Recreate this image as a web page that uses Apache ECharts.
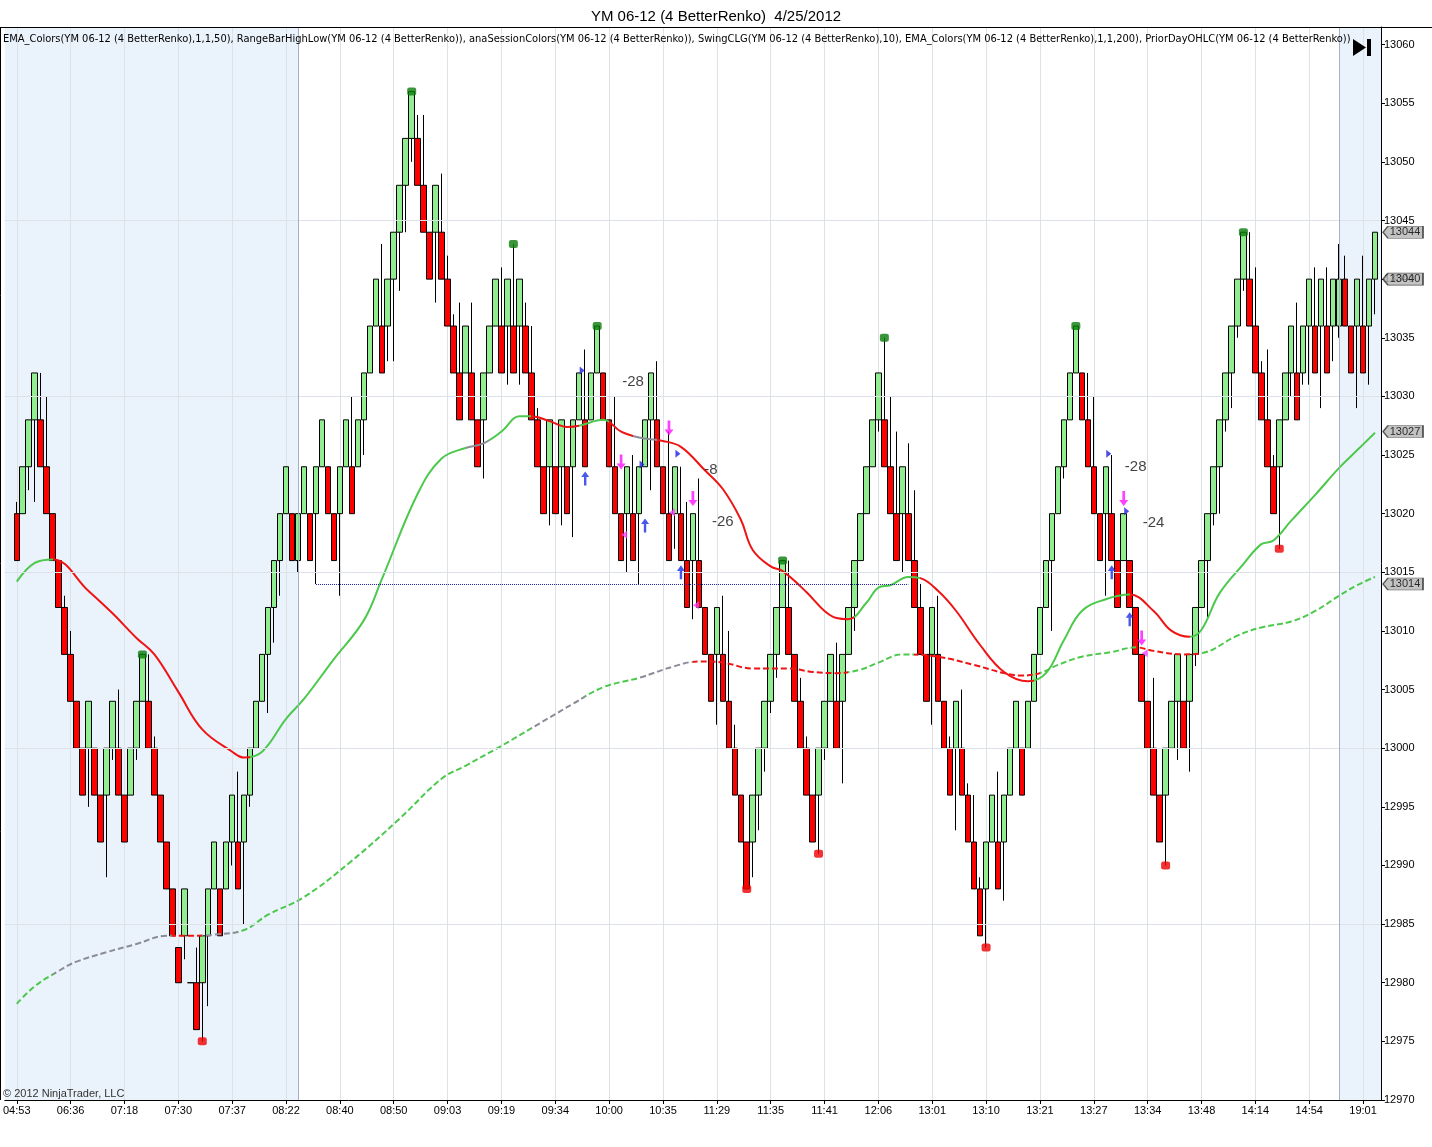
<!DOCTYPE html>
<html>
<head>
<meta charset="utf-8">
<title>YM 06-12 (4 BetterRenko) 4/25/2012</title>
<script src="https://cdn.jsdelivr.net/npm/echarts@6.0.0/dist/echarts.min.js"></script>
<style>
html, body { margin: 0; padding: 0; background: #fff; }
#main { width: 1432px; height: 1147px; }
</style>
</head>
<body>
<div id="main"></div>
<script>
// 4 point renko bars, one category per bar
var PAD = 2; // empty slots before the first bar

var timeLabels = ['04:53','06:36','07:18','07:30','07:37','08:22','08:40','08:50','09:03','09:19','09:34','10:00','10:35',
    '11:29','11:35','11:41','12:06','13:01','13:10','13:21','13:27','13:34','13:48','14:14','14:54','19:01'];
var labelEvery = 9;

var opens = [
    13020,13020,13024,13028,13028,13024,13020,13016,13012,13008,
    13004,13000,13000,13000,12996,12996,13000,13000,12996,12996,
    13000,13004,13004,13000,12996,12992,12988,12983,12984,12980,
    12980,12980,12984,12988,12988,12988,12992,12992,12992,12996,
    13000,13004,13008,13012,13016,13020,13020,13016,13020,13020,
    13020,13024,13024,13020,13020,13024,13024,13024,13028,13032,
    13036,13036,13036,13040,13044,13048,13052,13052,13048,13044,
    13044,13044,13040,13036,13032,13032,13032,13028,13028,13032,
    13036,13036,13036,13036,13036,13036,13032,13028,13024,13024,
    13024,13024,13024,13024,13028,13028,13028,13032,13032,13028,
    13024,13020,13020,13020,13020,13024,13028,13028,13024,13020,
    13020,13020,13016,13016,13016,13012,13008,13008,13008,13004,
    13000,12996,12992,12992,12996,13000,13004,13008,13012,13012,
    13008,13004,13000,12996,12996,13000,13004,13004,13004,13008,
    13012,13016,13020,13024,13028,13028,13024,13020,13020,13020,
    13016,13012,13008,13008,13008,13004,13000,13000,13000,12996,
    12992,12988,12988,12992,12992,12992,12996,13000,13000,13000,
    13004,13008,13012,13016,13020,13024,13028,13032,13032,13028,
    13024,13020,13020,13020,13016,13016,13016,13012,13008,13004,
    13000,12996,12996,13000,13004,13004,13004,13008,13012,13016,
    13020,13024,13028,13032,13036,13040,13040,13036,13032,13028,
    13024,13024,13028,13032,13032,13032,13036,13036,13036,13036,
    13036,13036,13040,13036,13036,13036,13036,13040];
var closes = [
    13016,13024,13028,13032,13024,13020,13016,13012,13008,13004,
    13000,12996,13004,12996,12992,13000,13004,12996,12992,13000,
    13004,13008,13000,12996,12992,12988,12984,12980,12988,12980,
    12976,12984,12988,12992,12984,12992,12996,12988,12996,13000,
    13004,13008,13012,13016,13020,13024,13016,13020,13024,13016,
    13024,13028,13020,13016,13024,13028,13020,13028,13032,13036,
    13040,13032,13040,13044,13048,13052,13056,13048,13044,13040,
    13048,13040,13036,13032,13028,13036,13028,13024,13032,13036,
    13040,13032,13040,13032,13040,13032,13028,13024,13020,13028,
    13020,13028,13020,13028,13032,13024,13032,13036,13028,13024,
    13020,13016,13024,13016,13024,13028,13032,13024,13020,13016,
    13024,13016,13012,13020,13012,13008,13004,13012,13004,13000,
    12996,12992,12988,12996,13000,13004,13008,13012,13016,13008,
    13004,13000,12996,12992,13000,13004,13008,13000,13008,13012,
    13016,13020,13024,13028,13032,13024,13020,13016,13024,13016,
    13012,13008,13004,13012,13004,13000,12996,13004,12996,12992,
    12988,12984,12992,12996,12988,12996,13000,13004,12996,13004,
    13008,13012,13016,13020,13024,13028,13032,13036,13028,13024,
    13020,13016,13024,13016,13012,13020,13012,13008,13004,13000,
    12996,12992,13000,13004,13008,13000,13008,13012,13016,13020,
    13024,13028,13032,13036,13040,13044,13036,13032,13028,13024,
    13020,13028,13032,13036,13028,13036,13040,13032,13040,13032,
    13040,13040,13036,13032,13040,13032,13040,13044];
var highs = [
    13021,13024,13028,13032,13032,13030,13020,13016,13013,13010,
    13004,13000,13004,13000,12996,13000,13004,13005,12996,13000,
    13004,13008,13008,13001,12996,12992,12988,12983,12988,12980,
    12983,12984,12988,12992,12988,12992,12996,12998,12996,13000,
    13004,13008,13012,13016,13020,13024,13020,13020,13024,13020,
    13024,13028,13024,13020,13024,13028,13030,13028,13032,13036,
    13040,13043,13040,13044,13048,13052,13056,13054,13054,13044,
    13048,13049,13042,13037,13038,13036,13038,13028,13032,13036,
    13040,13041,13040,13043,13040,13038,13036,13029,13024,13028,
    13024,13028,13024,13028,13032,13034,13032,13036,13032,13028,
    13030,13020,13024,13025,13024,13028,13032,13033,13024,13027,
    13024,13024,13021,13020,13023,13012,13008,13012,13013,13010,
    13002,12996,12992,12996,13000,13004,13008,13012,13016,13016,
    13008,13006,13001,12996,13000,13004,13008,13009,13008,13012,
    13016,13020,13024,13028,13032,13035,13030,13027,13024,13026,
    13022,13014,13008,13012,13013,13004,13001,13004,13005,12997,
    12996,12989,12992,12996,12998,12996,13000,13004,13000,13004,
    13008,13012,13016,13020,13024,13028,13032,13036,13032,13032,
    13030,13020,13024,13025,13016,13020,13016,13012,13008,13004,
    13006,12996,13000,13004,13008,13004,13008,13012,13016,13020,
    13024,13028,13032,13036,13040,13044,13044,13041,13033,13034,
    13025,13028,13032,13036,13038,13036,13040,13041,13040,13041,
    13040,13043,13042,13036,13040,13042,13040,13044];
var lows = [
    13016,13020,13022,13021,13024,13020,13016,13012,13008,13004,
    13000,12996,12995,12996,12992,12989,12999,12996,12992,12996,
    12999,13004,13000,12996,12992,12988,12984,12980,12982,12980,
    12976,12975,12978,12988,12984,12988,12990,12988,12985,12995,
    13000,13004,13003,13009,13013,13020,13016,13015,13020,13016,
    13014,13024,13020,13016,13013,13024,13020,13024,13025,13032,
    13036,13032,13033,13033,13039,13044,13050,13048,13044,13040,
    13038,13040,13036,13032,13028,13032,13028,13024,13023,13032,
    13036,13032,13031,13032,13031,13032,13028,13024,13020,13019,
    13020,13019,13020,13018,13028,13024,13028,13032,13028,13024,
    13020,13016,13015,13016,13014,13024,13022,13024,13020,13016,
    13017,13016,13012,13011,13012,13008,13004,13002,13004,13000,
    12996,12992,12988,12989,12993,12998,13003,13006,13012,13008,
    13004,13000,12996,12992,12991,12999,13004,13000,12997,13008,
    13010,13016,13020,13024,13027,13024,13020,13016,13015,13016,
    13012,13008,13004,13002,13004,13000,12996,12993,12996,12992,
    12988,12984,12983,12992,12988,12987,12996,13000,12996,13000,
    13004,13008,13012,13010,13020,13023,13028,13032,13028,13024,
    13020,13016,13013,13016,13012,13016,13012,13008,13004,13000,
    12996,12992,12990,13000,12999,13000,12998,13007,13012,13011,
    13019,13020,13027,13029,13035,13039,13036,13032,13028,13024,
    13020,13017,13028,13030,13028,13031,13031,13032,13029,13032,
    13033,13035,13036,13032,13029,13032,13031,13037];

// EMA(50), with its slope colouring
var ema50Bars = [0,3,6,12,16,20,23,27,31,36,38,41,45,48,53,58,61,67,71,75,78,81,84,86,89,92,94,98,101,104,
    108,111,115,118,121,123,126,128,132,135,137,139,142,144,146,149,151,154,157,161,165,169,172,175,178,182,
    186,190,193,196,198,201,205,208,210,213,217,221,224,227];
var ema50Vals = [13014.2,13015.8,13016.1,13013.4,13011.5,13009.4,13008.0,13004.8,13001.6,12999.7,
    12999.2,12999.7,13002.5,13004.2,13007.6,13010.9,13014.4,13021.7,13024.7,13025.6,
    13026.0,13027.0,13028.3,13028.3,13027.9,13027.4,13027.5,13028.0,13027.0,13026.5,
    13026.2,13025.7,13023.7,13022.1,13019.5,13016.9,13015.5,13015.1,13013.3,13011.7,
    13011.1,13011.0,13012.4,13013.7,13013.9,13014.6,13014.5,13013.4,13011.7,13008.8,
    13006.5,13005.7,13006.4,13009.2,13011.7,13012.7,13013.1,13011.7,13010.0,13009.5,
    13010.1,13013.2,13015.7,13017.4,13017.7,13019.4,13021.6,13023.9,13025.4,13026.9];
var ema50SegEnds = [5,38,74,78,85,93,98,102,106,139,150,169,185,195,227];
var ema50SegKinds = ['up','down','up','flat','up','down','up','down','flat','down','up','down','up','down','up'];

// EMA(200), dashed
var ema200Bars = [0,3,7,10,15,20,25,29,33,38,42,48,56,64,71,75,81,89,93,98,104,110,114,118,123,129,133,137,
    141,144,148,154,160,165,168,171,174,178,183,187,190,195,198,204,208,213,217,221,224,227];
var ema200Vals = [12978.2,12979.7,12981.0,12981.8,12982.6,12983.3,12984.0,12984.0,12984.1,12984.5,
    12985.8,12987.3,12990.4,12994.0,12997.4,12998.5,13000.2,13002.6,13003.8,13005.2,
    13006.0,13007.0,13007.4,13007.3,13006.8,13006.8,13006.5,13006.4,13006.7,13007.3,
    13008.0,13007.8,13007.1,13006.4,13006.2,13006.4,13007.1,13007.8,13008.2,13008.6,
    13008.3,13008.0,13008.1,13009.6,13010.3,13010.8,13011.7,13013.0,13013.9,13014.6];
var ema200SegEnds = [5,25,30,36,85,94,103,112,138,149,170,186,197,227];
var ema200SegKinds = ['up','flat','down','flat','up','flat','up','flat','down','up','down','up','down','up'];

var swingHighBars = [21,66,83,97,128,145,177,205];
var swingLowBars = [31,122,134,162,192,211];

var buyArrowBars = [95,105,111,183,186];
var buyArrowPrices = [13023.0,13019.0,13015.0,13015.0,13011.0];
var sellArrowBars = [101,109,113,185,188];
var sellArrowPrices = [13024.4,13027.3,13021.3,13021.3,13009.4];
var buyFlagBars = [94,104,110,182,185];
var buyFlagPrices = [13032.2,13024.2,13025.1,13025.1,13020.2];
var sellFlagBars = [101,109,113,188];
var sellFlagPrices = [13018.2,13020.1,13012.2,13008.1];

var noteBars = [103,116,118,187,190];
var notePrices = [13031.2,13023.7,13019.3,13024.0,13019.2];
var noteTexts = ['-28','-8','-26','-28','-24'];

var gridLevels = [12985,13000,13015,13030,13045];
var priorDayLevel = 13014, priorDayFrom = 50, priorDayTo = 149;
var sessionEndBar = 47, sessionStartBar = 221;
var priceTags = [13044,13040,13027,13014];

var indicatorText = 'EMA_Colors(YM 06-12 (4 BetterRenko),1,1,50), RangeBarHighLow(YM 06-12 (4 BetterRenko)), ' +
    'anaSessionColors(YM 06-12 (4 BetterRenko)), SwingCLG(YM 06-12 (4 BetterRenko),10), ' +
    'EMA_Colors(YM 06-12 (4 BetterRenko),1,1,200), PriorDayOHLC(YM 06-12 (4 BetterRenko))';

var lineColors = { up: '#4cc84c', down: '#ee1414', flat: '#8c8c98' };
var FONT = 'Liberation Sans, Arial, sans-serif';

function buildPieces(ends, kinds) {
    var pieces = [];
    var start = -10;
    for (var i = 0; i < ends.length; i++) {
        var stop = ends[i] + PAD + 0.5;
        pieces.push({ gt: start, lte: stop, color: lineColors[kinds[i]] });
        start = stop;
    }
    return pieces;
}

function pairs(bars, vals) {
    return bars.map(function (b, i) { return [b + PAD, vals[i]]; });
}

function drawChart() {
    var chart = echarts.init(document.getElementById('main'));
    var nBars = opens.length;

    var cats = [];
    for (var i = 0; i < nBars + PAD + 1; i++) {
        var b = i - PAD;
        cats.push(b >= 0 && b < nBars && b % labelEvery === 0 ? timeLabels[b / labelEvery] : '');
    }
    var lastIdx = cats.length - 1;
    var showTime = function (idx) {
        var b = idx - PAD;
        return b >= 0 && b < nBars && b % labelEvery === 0;
    };

    var candles = [];
    for (var k = 0; k < PAD; k++) candles.push('-');
    for (var j = 0; j < nBars; j++) candles.push([opens[j], closes[j], lows[j], highs[j]]);
    candles.push('-');

    var upArrow = 'path://M5,0 L10,6 L6.5,6 L6.5,15 L3.5,15 L3.5,6 L0,6 Z';
    var downArrow = 'path://M3.5,0 L6.5,0 L6.5,9 L10,9 L5,15 L0,9 L3.5,9 Z';
    var flagRight = 'path://M0,0 L6,4 L0,8 Z';
    var flagLeft = 'path://M6,0 L0,4 L6,8 Z';
    var tagPath = 'path://M0,6 L5,0 L40,0 L40,12 L5,12 Z';

    var option = {
        animation: false,
        backgroundColor: '#ffffff',
        textStyle: { fontFamily: FONT },
        title: {
            text: 'YM 06-12 (4 BetterRenko)  4/25/2012',
            left: 'center', top: 4,
            textStyle: { fontSize: 15, fontWeight: 'normal', color: '#000', fontFamily: FONT }
        },
        grid: { left: 1, right: 51, top: 27, bottom: 47 },
        xAxis: {
            type: 'category',
            boundaryGap: false,
            data: cats,
            z: 2,
            axisLine: { lineStyle: { color: '#000' } },
            axisTick: { show: true, interval: showTime, length: 4, lineStyle: { color: '#000' } },
            axisLabel: { interval: showTime, fontSize: 11, color: '#000', margin: 5, fontFamily: FONT },
            splitLine: { show: true, interval: showTime, lineStyle: { color: '#dde2e9', width: 1 } }
        },
        yAxis: {
            type: 'value',
            position: 'right',
            min: 12970, max: 13061.5, interval: 5,
            axisLine: { show: true, lineStyle: { color: '#000' } },
            axisTick: { show: true, length: 4, lineStyle: { color: '#000' } },
            axisLabel: {
                fontSize: 11, color: '#000', margin: 3, showMaxLabel: false, fontFamily: FONT,
                formatter: function (v) { return String(v); }
            },
            splitLine: { show: false }
        },
        visualMap: [
            { type: 'piecewise', show: false, dimension: 0, seriesIndex: 2, pieces: buildPieces(ema200SegEnds, ema200SegKinds) },
            { type: 'piecewise', show: false, dimension: 0, seriesIndex: 3, pieces: buildPieces(ema50SegEnds, ema50SegKinds) }
        ],
        series: [
            {
                // session shading and price grid
                name: 'bg', type: 'line', data: [], z: 1, silent: true,
                markArea: {
                    silent: true,
                    itemStyle: { color: '#eaf3fc' },
                    data: [
                        [{ xAxis: 0 }, { xAxis: sessionEndBar + PAD }],
                        [{ xAxis: sessionStartBar + PAD }, { xAxis: lastIdx }]
                    ]
                },
                markLine: {
                    silent: true, symbol: ['none', 'none'], label: { show: false },
                    lineStyle: { color: '#dde2e9', type: 'solid', width: 1 },
                    data: gridLevels.map(function (v) { return { yAxis: v }; }).concat([
                        { xAxis: sessionEndBar + PAD, lineStyle: { color: '#a3b2c4', type: 'solid' } },
                        { xAxis: sessionStartBar + PAD, lineStyle: { color: '#a3b2c4', type: 'solid' } }
                    ])
                }
            },
            {
                name: 'YM 06-12', type: 'candlestick', data: candles, barWidth: 6, z: 3,
                itemStyle: { color: '#90ee90', color0: '#ff0000', borderColor: '#000', borderColor0: '#000', borderWidth: 1 },
                markLine: {
                    silent: true, symbol: ['none', 'none'], label: { show: false },
                    lineStyle: { color: '#1c1c9c', type: 'dotted', width: 1 },
                    data: [[{ coord: [priorDayFrom + PAD, priorDayLevel] }, { coord: [priorDayTo + PAD, priorDayLevel] }]]
                }
            },
            {
                name: 'EMA200', type: 'line', data: pairs(ema200Bars, ema200Vals), smooth: 0.4,
                showSymbol: false, z: 4, lineStyle: { width: 2, type: [6, 3] }
            },
            {
                name: 'EMA50', type: 'line', data: pairs(ema50Bars, ema50Vals), smooth: 0.4,
                showSymbol: false, z: 4, lineStyle: { width: 2 }
            },
            {
                name: 'Swing high', type: 'scatter', z: 6, symbol: 'roundRect', symbolSize: [9, 8],
                itemStyle: { color: '#0a7a0a' },
                data: swingHighBars.map(function (b) { return [b + PAD, highs[b]]; })
            },
            {
                name: 'Swing low', type: 'scatter', z: 6, symbol: 'roundRect', symbolSize: [9, 8],
                itemStyle: { color: '#f00000' },
                data: swingLowBars.map(function (b) { return [b + PAD, lows[b]]; })
            },
            {
                name: 'Long', type: 'scatter', z: 6, symbol: upArrow, symbolSize: [8, 14],
                itemStyle: { color: '#1c2ee6' }, data: pairs(buyArrowBars, buyArrowPrices)
            },
            {
                name: 'Short', type: 'scatter', z: 6, symbol: downArrow, symbolSize: [9, 15],
                itemStyle: { color: '#ff10ff' }, data: pairs(sellArrowBars, sellArrowPrices)
            },
            {
                name: 'Long flag', type: 'scatter', z: 6, symbol: flagRight, symbolSize: [5, 8], symbolOffset: [3, 0],
                itemStyle: { color: '#2020e0' }, data: pairs(buyFlagBars, buyFlagPrices)
            },
            {
                name: 'Short flag', type: 'scatter', z: 6, symbol: flagLeft, symbolSize: [6, 8], symbolOffset: [3, 0],
                itemStyle: { color: '#ff40ff' }, data: pairs(sellFlagBars, sellFlagPrices)
            },
            {
                name: 'Notes', type: 'scatter', z: 7, symbolSize: 1, silent: true,
                itemStyle: { color: 'rgba(0,0,0,0)' },
                label: {
                    show: true, position: 'inside', fontSize: 15, color: '#111', fontFamily: FONT,
                    formatter: function (p) { return noteTexts[p.dataIndex]; }
                },
                data: pairs(noteBars, notePrices)
            },
            {
                name: 'Tags', type: 'scatter', z: 8, clip: false, silent: true,
                symbol: tagPath, symbolSize: [40, 12], symbolOffset: [22, 0],
                itemStyle: { color: '#b4b4b4', borderColor: '#333', borderWidth: 1 },
                label: {
                    show: true, position: 'inside', offset: [2, 0], fontSize: 11, color: '#000', fontFamily: FONT,
                    formatter: function (p) { return String(p.value[1]); }
                },
                data: priceTags.map(function (v) { return [lastIdx, v]; })
            }
        ],
        graphic: [
            { type: 'line', z: 100, shape: { x1: 0, y1: 27.5, x2: 1432, y2: 27.5 }, style: { stroke: '#000', lineWidth: 1 } },
            { type: 'line', z: 100, shape: { x1: 0.5, y1: 27, x2: 0.5, y2: 1100 }, style: { stroke: '#000', lineWidth: 1 } },
            {
                type: 'text', z: 100, left: 3, top: 34,
                style: { text: indicatorText, fontSize: 11, fontFamily: 'Liberation Sans Narrow, DejaVu Sans Condensed, Arial', fill: '#000' }
            },
            {
                type: 'text', z: 100, left: 3, top: 1088,
                style: { text: '\u00a9 2012 NinjaTrader, LLC', fontSize: 11, fontFamily: FONT, fill: '#333' }
            },
            { type: 'polygon', z: 100, shape: { points: [[1353, 39], [1353, 56], [1366, 47.5]] }, style: { fill: '#000' } },
            { type: 'rect', z: 100, shape: { x: 1367, y: 39, width: 4, height: 17 }, style: { fill: '#000' } }
        ]
    };

    chart.setOption(option);
}

drawChart();
</script>
</body>
</html>
